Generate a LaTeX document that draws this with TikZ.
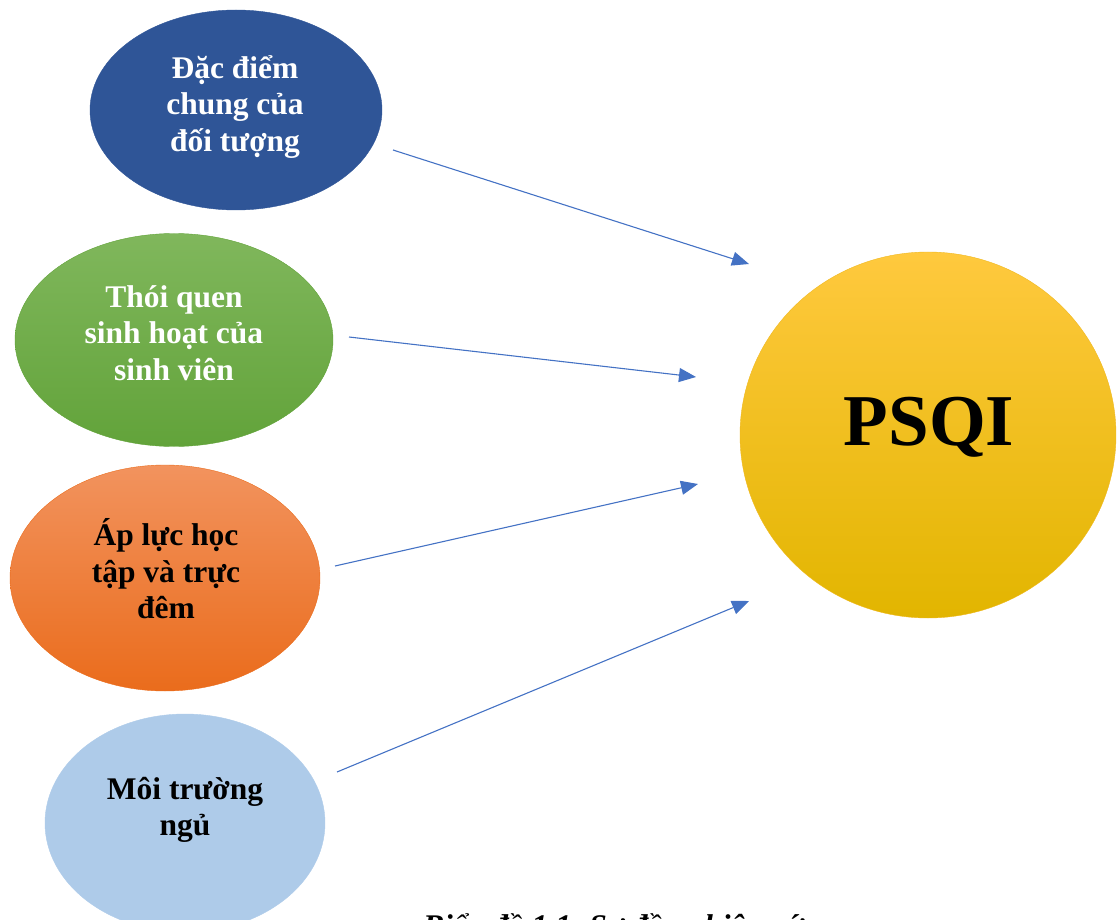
\documentclass[tikz,border=0pt]{standalone}
\usepackage{fontspec}
\setmainfont{Liberation Serif}
\usetikzlibrary{arrows.meta,shapes.geometric}
\definecolor{blueA}{HTML}{2F5597}
\definecolor{greenT}{HTML}{80B75C}
\definecolor{greenB}{HTML}{62A33A}
\definecolor{orangeT}{HTML}{F2935E}
\definecolor{orangeB}{HTML}{EA6C1C}
\definecolor{lightB}{HTML}{AECBE9}
\definecolor{goldT}{HTML}{FFC93E}
\definecolor{goldB}{HTML}{E2B500}
\definecolor{goldE}{HTML}{F0B820}
\definecolor{arrowC}{HTML}{4472C4}
\tikzset{
  factor/.style={ellipse, inner sep=0pt},
  label text/.style={font=\bfseries\fontsize{31.5}{36.5}\selectfont, align=center, inner sep=0pt},
  link/.style={draw=arrowC, line width=1.1pt, -{Triangle[length=17pt,width=14pt]}}
}
\begin{document}
\begin{tikzpicture}[x=1pt,y=-1pt]
\useasboundingbox (0,0) rectangle (1117,920);
\begin{scope}
\clip (0,0) rectangle (1117,920);
\node[factor, fill=blueA, draw=blueA, minimum width=292pt, minimum height=200pt] (dd) at (236,110) {};
\node[label text, text=white] (ddt) at (235,107) {Đặc điểm\\chung của\\đối tượng};
\node[factor, top color=greenT, bottom color=greenB, draw=greenB, minimum width=318pt, minimum height=213pt] (tq) at (174,340) {};
\node[label text, text=white] (tqt) at (174,333) {Thói quen\\sinh hoạt của\\sinh viên};
\node[factor, top color=orangeT, bottom color=orangeB, draw=orangeB, minimum width=310pt, minimum height=226pt] (al) at (165,578) {};
\node[label text, text=black] (alt) at (166,569) {Áp lực học\\tập và trực\\đêm};
\node[factor, fill=lightB, draw=lightB, minimum width=280pt, minimum height=218pt] (mt) at (185,823) {};
\node[label text, text=black] (mtt) at (185,810) {Môi trường\\ngủ};
\node[ellipse, top color=goldT, bottom color=goldB, draw=goldE, minimum width=376pt, minimum height=366pt, inner sep=0pt] (ps) at (928,435) {};
\node[font=\bfseries\fontsize{73}{80}\selectfont, anchor=base, inner sep=0pt] (pst) at (929,445) {PSQI};
\coordinate (a1s) at (393,150); \coordinate (a1e) at (749,264);
\coordinate (a2s) at (349,337); \coordinate (a2e) at (696,377);
\coordinate (a3s) at (335,566); \coordinate (a3e) at (698,484);
\coordinate (a4s) at (337,772); \coordinate (a4e) at (749,601);
\draw[link] (a1s) -- (a1e);
\draw[link] (a2s) -- (a2e);
\draw[link] (a3s) -- (a3e);
\draw[link] (a4s) -- (a4e);
\node[font=\bfseries\itshape\fontsize{31.5}{36}\selectfont, anchor=base west, inner sep=0pt] (cap) at (423,936) {Biểu đồ 1.1. Sơ đồ nghiên cứu};
\end{scope}
\end{tikzpicture}
\end{document}
